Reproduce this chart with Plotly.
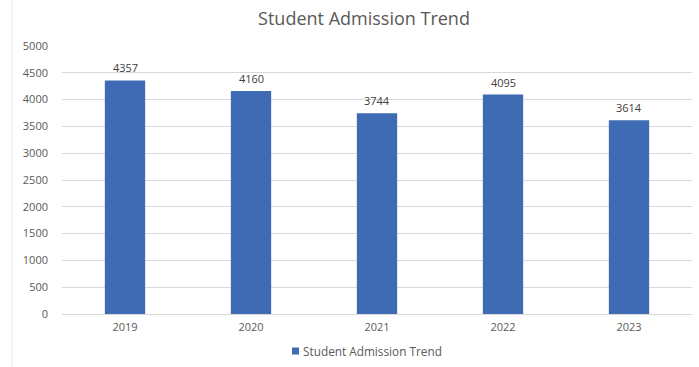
import plotly.graph_objects as go

# Admissions per year
years = ["2019", "2020", "2021", "2022", "2023"]
admissions = [4357, 4160, 3744, 4095, 3614]
y_ticks = [0, 500, 1000, 1500, 2000, 2500, 3000, 3500, 4000, 4500, 5000]

series_name = "Student Admission Trend"
bar_color = "#3E6BB4"
text_color = "#595959"
font_family = "Open Sans, Segoe UI, sans-serif"

PLOT_W, PLOT_H = 630, 268  # plot area size in px

fig = go.Figure()
fig.add_trace(go.Bar(
    x=years,
    y=admissions,
    name=series_name,
    marker=dict(color=bar_color, line=dict(width=0)),
    width=0.32,
    showlegend=False,
))

# Value labels above each bar (category index positions)
for i, val in enumerate(admissions):
    fig.add_annotation(
        x=i, y=val, text=str(val), showarrow=False,
        yanchor="bottom", yshift=3,
        font=dict(family=font_family, size=11, color="#404040"),
    )

# Legend entry below the axis: colour swatch + series name
leg_y = (314 - 351) / PLOT_H
fig.add_shape(
    type="rect", xref="paper", yref="paper",
    x0=(292 - 62) / PLOT_W, x1=(299 - 62) / PLOT_W,
    y0=leg_y - 3.5 / PLOT_H, y1=leg_y + 3.5 / PLOT_H,
    fillcolor=bar_color, line=dict(width=0),
)
fig.add_annotation(
    xref="paper", yref="paper",
    x=(301 - 62) / PLOT_W, y=leg_y,
    xanchor="left", yanchor="middle",
    text=series_name, showarrow=False,
    font=dict(family=font_family, size=11.8, color=text_color),
)

# Faint frame line on the left edge
fig.add_shape(
    type="line", xref="paper", yref="paper",
    x0=-50 / PLOT_W, x1=-50 / PLOT_W, y0=-53 / PLOT_H, y1=1 + 46 / PLOT_H,
    line=dict(color="#ebebeb", width=1),
)

fig.update_layout(
    width=699, height=367,
    margin=dict(l=62, r=7, t=46, b=53, autoexpand=False),
    paper_bgcolor="white",
    plot_bgcolor="white",
    showlegend=False,
    title=dict(
        text=series_name,
        x=364 / 699, xref="container", xanchor="center",
        y=1 - 19 / 367, yref="container", yanchor="middle",
        font=dict(family=font_family, size=18, color=text_color),
    ),
    font=dict(family=font_family, size=11, color=text_color),
)

fig.update_xaxes(
    type="category",
    range=[-0.5, len(years) - 0.5],
    showgrid=False,
    showline=True, linecolor="#d9d9d9", linewidth=1,
    ticks="", ticklabelstandoff=3,
    tickfont=dict(family=font_family, size=11, color=text_color),
    fixedrange=True,
)
fig.update_yaxes(
    range=[0, 5000],
    tickvals=y_ticks,
    showgrid=True, gridcolor="#d9d9d9", gridwidth=1,
    zeroline=False, showline=False,
    ticks="", ticklabelstandoff=13,
    tickfont=dict(family=font_family, size=11, color=text_color),
    fixedrange=True,
)

fig.write_html("out.html")
